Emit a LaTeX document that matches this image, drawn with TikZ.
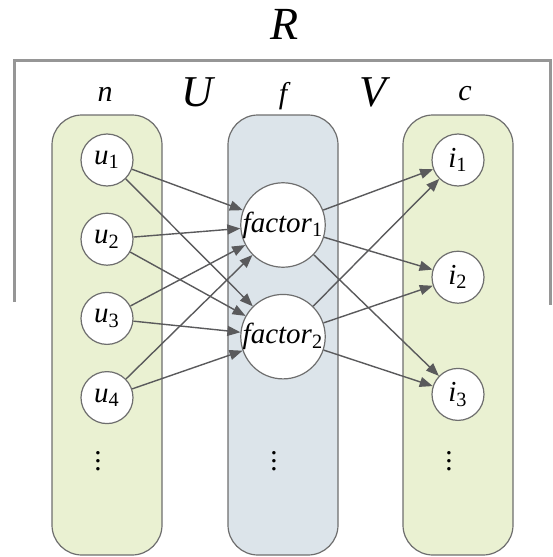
\documentclass[tikz,border=0pt]{standalone}
\usepackage{fontspec}
\setmainfont{Liberation Serif}
\usetikzlibrary{arrows.meta, positioning}

\definecolor{usergreen}{RGB}{234,241,210}
\definecolor{factorblue}{RGB}{220,228,234}
\definecolor{edgegray}{RGB}{110,110,110}
\definecolor{linkgray}{RGB}{90,90,92}
\definecolor{bracketgray}{RGB}{150,150,150}

\begin{document}
\begin{tikzpicture}[
    % --- Global styles ---
    x=0.5pt, y=-0.5pt,
    node distance=13pt,
    >={Triangle[length=6.5pt,width=5pt]},
    every node/.style={font=\fontsize{14.5}{17}\selectfont},
    % --- Columns ---
    column/.style={
      draw=edgegray, line width=0.6pt, rounded corners=15pt,
      minimum width=55pt, minimum height=220pt, inner sep=0pt,
    },
    user col/.style={column, fill=usergreen},
    factor col/.style={column, fill=factorblue},
    % --- Circles ---
    unit/.style={
      circle, draw=edgegray, fill=white, line width=0.6pt,
      minimum size=26pt, inner sep=0pt,
    },
    factor/.style={unit, minimum size=42pt},
    % --- Arrows and labels ---
    link/.style={->, line width=0.7pt, draw=linkgray},
    bracket/.style={draw=bracketgray, line width=1.5pt},
    head/.style={font=\fontsize{15}{17}\selectfont\itshape},
    big head/.style={font=\fontsize{22}{25}\selectfont\itshape},
    huge head/.style={font=\fontsize{23}{27}\selectfont\itshape},
  ]
  \useasboundingbox (0,0) rectangle (552,557);

  %% ---- Matrix R bracket ----
  \node[huge head] (rlabel) at (285,24) {R};
  \draw[bracket] (14,302) |- (550,60) -- (550,305);

  %% ---- Column headings ----
  \node[head] (nlabel) at (105,94) {n};
  \node[big head] (ulabel) at (197,92) {U};
  \node[head] (flabel) at (283,96) {f};
  \node[big head] (vlabel) at (373,92) {V};
  \node[head] (clabel) at (465,94) {c};

  %% ---- Columns ----
  \node[user col] (ucol) at (107,335) {};
  \node[factor col] (fcol) at (283,335) {};
  \node[user col] (icol) at (458,335) {};

  %% ---- Users ----
  \node[unit] (u1) at (107,160) {\textit{u}\textsubscript{1}};
  \node[unit, below=of u1] (u2) {\textit{u}\textsubscript{2}};
  \node[unit, below=of u2] (u3) {\textit{u}\textsubscript{3}};
  \node[unit, below=of u3] (u4) {\textit{u}\textsubscript{4}};
  \node (udots) at (98,455) {$\vdots$};

  %% ---- Factors ----
  \node[factor] (factor1) at (283,225) {\textit{factor}\textsubscript{1}};
  \node[factor, below=of factor1] (factor2) {\textit{factor}\textsubscript{2}};
  \node (fdots) at (274,455) {$\vdots$};

  %% ---- Items ----
  \node[unit] (i1) at (458,160) {\textit{i}\textsubscript{1}};
  \node[unit, below=32pt of i1] (i2) {\textit{i}\textsubscript{2}};
  \node[unit, below=32pt of i2] (i3) {\textit{i}\textsubscript{3}};
  \node (idots) at (449,455) {$\vdots$};

  %% ---- Arrows ----
  \foreach \u in {1,...,4}
    \foreach \f in {1,2}
      \draw[link] (u\u) -- (factor\f);
  \foreach \f in {1,2}
    \foreach \i in {1,...,3}
      \draw[link] (factor\f) -- (i\i);

\end{tikzpicture}
\end{document}
